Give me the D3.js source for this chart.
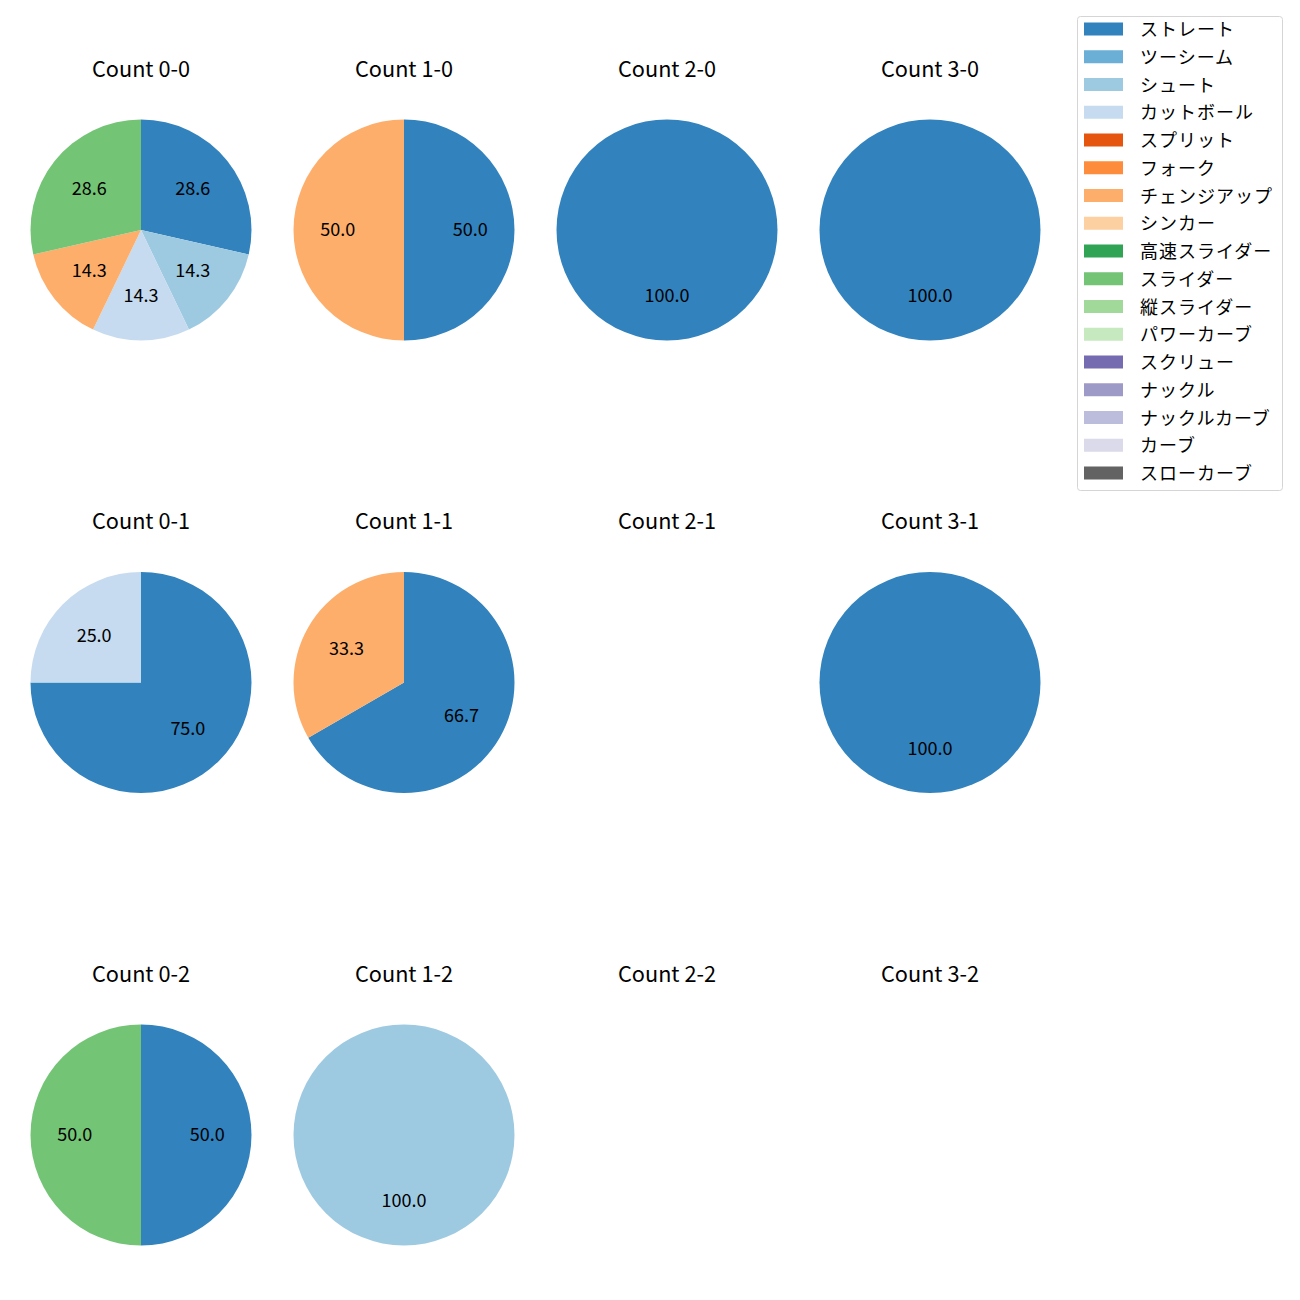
<!DOCTYPE html>
<html><head><meta charset="utf-8">
<script src="https://cdn.jsdelivr.net/npm/d3@7"></script>
<style>body{margin:0;background:#fff;} svg{display:block;}</style>
</head><body>
<div id="chart"></div>
<script>
const pitchTypes = ["ストレート","ツーシーム","シュート","カットボール","スプリット","フォーク","チェンジアップ","シンカー","高速スライダー","スライダー","縦スライダー","パワーカーブ","スクリュー","ナックル","ナックルカーブ","カーブ","スローカーブ"];
const colors = ["#3182bd","#6baed6","#9ecae1","#c6dbef","#e6550d","#fd8d3c","#fdae6b","#fdd0a2","#31a354","#74c476","#a1d99b","#c7e9c0","#756bb1","#9e9ac8","#bcbddc","#dadaeb","#636363"];
const panelTitles = ["Count 0-0","Count 1-0","Count 2-0","Count 3-0","Count 0-1","Count 1-1","Count 2-1","Count 3-1","Count 0-2","Count 1-2","Count 2-2","Count 3-2"];
// pitch counts per panel
const count00 = {"ストレート":2,"シュート":1,"カットボール":1,"チェンジアップ":1,"スライダー":2};
const count10 = {"ストレート":1,"チェンジアップ":1};
const count20 = {"ストレート":1};
const count30 = {"ストレート":1};
const count01 = {"ストレート":3,"カットボール":1};
const count11 = {"ストレート":2,"チェンジアップ":1};
const count21 = {};
const count31 = {"ストレート":1};
const count02 = {"ストレート":1,"スライダー":1};
const count12 = {"シュート":1};
const count22 = {};
const count32 = {};
const panelData = [count00,count10,count20,count30,count01,count11,count21,count31,count02,count12,count22,count32];

const W = 1300, H = 1300;
const svg = d3.select("#chart").append("svg").attr("width",W).attr("height",H);
const font = "'Noto Sans CJK JP', 'Noto Sans', sans-serif";
const colX = d3.scalePoint().domain([0,1,2,3]).range([141,930]);
const rowY = d3.scalePoint().domain([0,1,2]).range([230,1135]);
const R = 110.5;
const color = d3.scaleOrdinal().domain(pitchTypes).range(colors);

panelData.forEach((cnt,i) => {
  const c = i % 4, r = Math.floor(i/4);
  const cx = colX(c), cy = rowY(r);
  svg.append("text").attr("x",cx).attr("y",cy-163).attr("text-anchor","middle")
    .attr("dominant-baseline","central").attr("font-family",font).attr("font-size",21.7)
    .attr("fill","#000").text(panelTitles[i]);
  const entries = pitchTypes.filter(p => cnt[p]).map(p => ({type:p, value:cnt[p]}));
  if (!entries.length) return;
  const total = d3.sum(entries, d=>d.value);
  const pie = d3.pie().sort(null).value(d=>d.value);
  const arcs = pie(entries);
  const arc = d3.arc().innerRadius(0).outerRadius(R);
  const g = svg.append("g").attr("transform",`translate(${cx},${cy})`);
  g.selectAll("path").data(arcs).join("path").attr("d",arc).attr("fill",d=>color(d.data.type));
  g.selectAll("text").data(arcs).join("text")
    .attr("x",d=>{const a=(d.startAngle+d.endAngle)/2; return 0.6*R*Math.sin(a);})
    .attr("y",d=>{const a=(d.startAngle+d.endAngle)/2; return -0.6*R*Math.cos(a) - 2;})
    .attr("text-anchor","middle").attr("dominant-baseline","central")
    .attr("font-family",font).attr("font-size",18).attr("fill","#000")
    .text(d=>(d.data.value/total*100).toFixed(1));
});

// legend
const lg = svg.append("g");
lg.append("rect").attr("x",1077.5).attr("y",16.5).attr("width",205).attr("height",474)
  .attr("rx",3).attr("fill","#fff").attr("stroke","#d5d5d5").attr("stroke-width",1);
const ly = d3.scalePoint().domain(pitchTypes).range([29,473]);
pitchTypes.forEach(p => {
  lg.append("rect").attr("x",1084).attr("y",ly(p)-6.5).attr("width",39).attr("height",13).attr("fill",color(p));
  lg.append("text").attr("x",1140).attr("y",ly(p)-1).attr("dominant-baseline","central")
    .attr("font-family",font).attr("font-size",18).attr("letter-spacing",1).attr("fill","#000").text(p);
});
</script>
</body></html>
